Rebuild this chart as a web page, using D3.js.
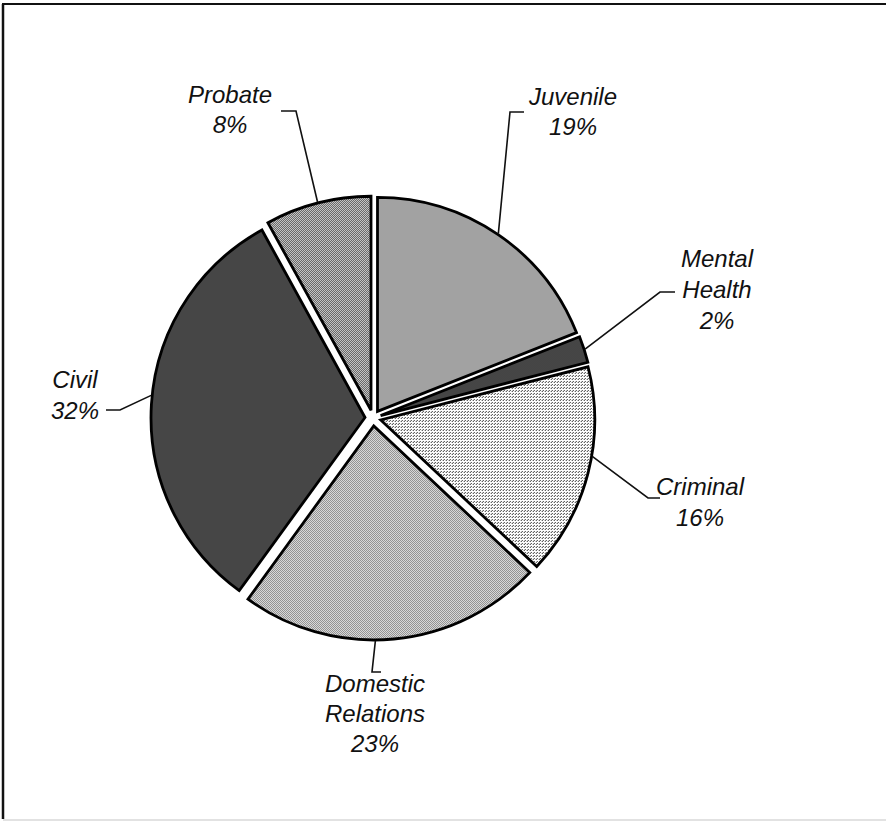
<!DOCTYPE html>
<html>
<head>
<meta charset="utf-8">
<title>Caseload by court type</title>
<script src="https://d3js.org/d3.v7.min.js"></script>
<style>
  body { margin: 0; background: #fff; }
  svg text { font-family: "Liberation Sans", Arial, Helvetica, sans-serif; font-style: italic; font-size: 24px; fill: #111; }
</style>
</head>
<body>
<div id="chart"></div>
<script>
// data, clockwise from 12 o'clock
var categories = ["Juvenile", "Mental Health", "Criminal", "Domestic Relations", "Civil", "Probate"];
var values = [19, 2, 16, 23, 32, 8];
var labelLines = [["Juvenile", "19%"], ["Mental", "Health", "2%"], ["Criminal", "16%"],
                  ["Domestic", "Relations", "23%"], ["Civil", "32%"], ["Probate", "8%"]];

// halftone look for each slice: [background, dot colour, tile size, dot cells]
var shades = [
  ["#ffffff", "#454545", 2, [[0,0],[1,1]]],
  ["#7a7a7a", "#111111", 2, [[0,0],[1,1]]],
  ["#ffffff", "#2e2e2e", 3, [[0,0],[2,1]]],
  ["#ffffff", "#6c6c6c", 2, [[0,0],[1,1]]],
  ["#7c7c7c", "#101010", 2, [[0,0],[1,1]]],
  ["#f4f4f4", "#3a3a3a", 2, [[0,0],[1,1]]]
];

// label placement: text centre x, first baseline, line gap, leader elbow, short tick end,
// and where along the slice's rim the leader starts (0 = start edge, 1 = end edge)
var labelPos = [
  {x: 573, y: 105, gap: 30, elbow: [510, 112], tick: [524, 112], at: 0.5},
  {x: 717, y: 267, gap: 31, elbow: [660, 292], tick: [675, 292], at: 0.5},
  {x: 700, y: 495, gap: 31, elbow: [648, 498], tick: [660, 498], at: 0.42},
  {x: 375, y: 692, gap: 30, elbow: [372, 672], tick: [381, 672], at: 0.56},
  {x: 75,  y: 388, gap: 31, elbow: [120, 410], tick: [106, 410], at: 0.52},
  {x: 230, y: 103, gap: 30, elbow: [296, 111], tick: [281, 111], at: 0.5}
];

var w = 886, h = 822;
var cx = 373, cy = 418, radius = 214, explode = 8;

var svg = d3.select("#chart").append("svg")
  .attr("width", w)
  .attr("height", h);

// frame
svg.append("line").attr("x1", 2).attr("y1", 4).attr("x2", w).attr("y2", 4)
  .attr("stroke", "#111").attr("stroke-width", 2);
svg.append("line").attr("x1", 3).attr("y1", 4).attr("x2", 3).attr("y2", 819)
  .attr("stroke", "#111").attr("stroke-width", 2.5);
svg.append("line").attr("x1", 3).attr("y1", 820).attr("x2", w).attr("y2", 820)
  .attr("stroke", "#d8d8d8").attr("stroke-width", 1.5);

// patterns
var defs = svg.append("defs");
shades.forEach(function(s, i) {
  var p = defs.append("pattern")
    .attr("id", "shade" + i)
    .attr("patternUnits", "userSpaceOnUse")
    .attr("width", s[2]).attr("height", s[2]);
  p.append("rect").attr("width", s[2]).attr("height", s[2]).attr("fill", s[0]);
  s[3].forEach(function(c) {
    p.append("rect").attr("x", c[0]).attr("y", c[1]).attr("width", 1).attr("height", 1).attr("fill", s[1]);
  });
});

var pie = d3.pie().sort(null).value(function(d) { return d; });
var arcs = pie(values);

var arc = d3.arc()
  .innerRadius(0)
  .outerRadius(radius);

function mid(d) { return (d.startAngle + d.endAngle) / 2; }

var g = svg.append("g").attr("transform", "translate(" + cx + "," + cy + ")");

// every slice pulled out a little along its bisector
g.selectAll("path.slice")
  .data(arcs)
  .enter()
  .append("path")
  .attr("class", "slice")
  .attr("transform", function(d) {
    var a = mid(d);
    return "translate(" + (explode * Math.sin(a)) + "," + (-explode * Math.cos(a)) + ")";
  })
  .attr("d", arc)
  .attr("fill", function(d, i) { return "url(#shade" + i + ")"; })
  .attr("stroke", "#000")
  .attr("stroke-width", 2.8)
  .attr("stroke-linejoin", "miter");

// leader lines from a point on each slice's rim
arcs.forEach(function(d, i) {
  var lp = labelPos[i];
  var m = mid(d);
  var a = d.startAngle + lp.at * (d.endAngle - d.startAngle);
  var sx = cx + explode * Math.sin(m) + (radius + 1) * Math.sin(a);
  var sy = cy - explode * Math.cos(m) - (radius + 1) * Math.cos(a);
  svg.append("polyline")
    .attr("points", [[sx, sy], lp.elbow, lp.tick].map(function(p) { return p.join(","); }).join(" "))
    .attr("fill", "none")
    .attr("stroke", "#111")
    .attr("stroke-width", 1.6);
});

// labels
labelLines.forEach(function(lines, i) {
  var lp = labelPos[i];
  var t = svg.append("text").attr("text-anchor", "middle");
  lines.forEach(function(s, k) {
    t.append("tspan").attr("x", lp.x).attr("y", lp.y + k * lp.gap).text(s);
  });
});
</script>
</body>
</html>
